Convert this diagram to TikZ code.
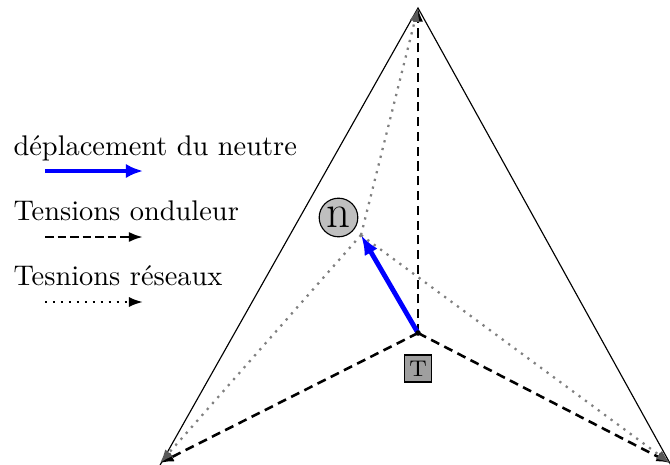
\documentclass[tikz,border=0pt]{standalone}
\usetikzlibrary{arrows.meta}
\begin{document}
\begin{tikzpicture}[x=0.352pt,y=-0.352pt,
  edge/.style={line width=0.4pt,black},
  dashedarrow/.style={line width=0.9pt,dash pattern=on 3.2pt off 2pt,-{Latex[length=4.8pt,width=3.6pt]}},
  dottedarrow/.style={line width=0.8pt,gray,dotted,-{Latex[length=4.8pt,width=3.6pt,fill=black!65,color=black!65]}},
  bluearrow/.style={line width=1.7pt,blue,-{Latex[length=7pt,width=5.2pt]}},
  legtext/.style={anchor=base west,inner sep=0pt,font=\normalsize},
  neutre/.style={circle,draw,line width=0.4pt,fill=gray!50,minimum size=13.6pt,inner sep=0pt,font=\fontsize{16.5}{19}\selectfont},
  tbox/.style={rectangle,draw,line width=0.4pt,fill=gray!75,minimum size=9.5pt,inner sep=0pt,font=\footnotesize}]
\useasboundingbox (0,0) rectangle (670,464);
% vertices and points
\coordinate (top) at (418,8);
\coordinate (bl) at (160,463);
\coordinate (br) at (670,463);
\coordinate (blo) at (159,467);
\coordinate (bro) at (672,467);
\coordinate (c) at (418,333);
\coordinate (nn) at (361,235);
% triangle
\draw[edge] (blo) -- (top) -- (bro) -- cycle;
% inverter voltages
\draw[dashedarrow] (c) -- (top);
\draw[dashedarrow] (c) -- (bl);
\draw[dashedarrow] (c) -- (br);
% grid voltages
\draw[dottedarrow] (nn) -- (top);
\draw[dottedarrow] (nn) -- (bl);
\draw[dottedarrow] (nn) -- (br);
% neutral displacement
\draw[bluearrow] (c) -- (nn);
\fill (c) circle (2.8);
% labels
\node[neutre] (n) at (338.5,217.5) {n};
\node[tbox] (t) at (418,368.5) {T};
% legend
\node[legtext] (l1) at (13,155) {déplacement du neutre};
\coordinate (a1s) at (45,171);
\coordinate (a1e) at (143,171);
\draw[line width=1.6pt,blue,-{Latex[length=6pt,width=5pt]}] (a1s) -- (a1e);
\node[legtext] (l2) at (13,220) {Tensions onduleur};
\coordinate (a2s) at (45,237);
\coordinate (a2e) at (143,237);
\draw[line width=0.9pt,dash pattern=on 3pt off 1.4pt,-{Latex[length=5pt,width=3.6pt]}] (a2s) -- (a2e);
\node[legtext] (l3) at (13,285) {Tesnions réseaux};
\coordinate (a3s) at (45,302);
\coordinate (a3e) at (143,302);
\draw[line width=0.8pt,dotted,-{Latex[length=5pt,width=3.6pt]}] (a3s) -- (a3e);
\end{tikzpicture}
\end{document}
